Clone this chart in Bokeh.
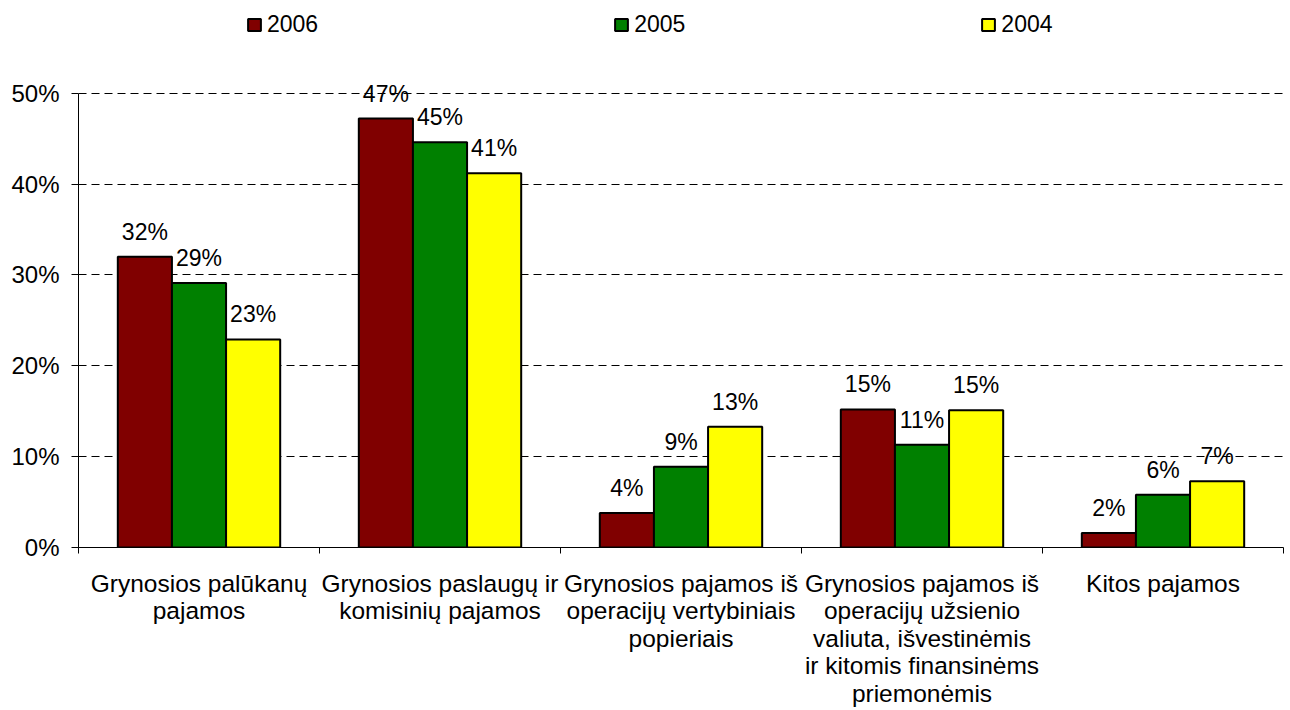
from bokeh.plotting import figure
from bokeh.models import ColumnDataSource, Range1d, FixedTicker, Legend, LegendItem
from bokeh.core.properties import value
from bokeh.embed import file_html
from bokeh.resources import INLINE

# ---- data ----
categories = [
    "Grynosios palūkanų\npajamos",
    "Grynosios paslaugų ir\nkomisinių pajamos",
    "Grynosios pajamos iš\noperacijų vertybiniais\npopieriais",
    "Grynosios pajamos iš\noperacijų užsienio\nvaliuta, išvestinėmis\nir kitomis finansinėms\npriemonėmis",
    "Kitos pajamos",
]
years = ["2006", "2005", "2004"]
v2006 = [0.320, 0.472, 0.038, 0.152, 0.016]
v2005 = [0.291, 0.446, 0.089, 0.113, 0.058]
v2004 = [0.229, 0.412, 0.133, 0.151, 0.073]
y_ticks = [0, 0.1, 0.2, 0.3, 0.4, 0.5]
y_tick_labels = ["0%", "10%", "20%", "30%", "40%", "50%"]

# ---- styles ----
colors = ["#800000", "#008000", "#FFFF00"]
FONT = "Liberation Sans"
BAR_W = 0.2246

p = figure(frame_width=1205, frame_height=547, output_backend="svg", toolbar_location=None,
           x_range=Range1d(0, 5), y_range=Range1d(0, 0.602),
           min_border_left=78, min_border_right=3, min_border_top=0, min_border_bottom=150)
p.outline_line_color = None
p.background_fill_color = "white"
p.border_fill_color = "white"

centers = [i + 0.5 for i in range(len(categories))]
offsets = [-BAR_W, 0.0, BAR_W]
series = [v2006, v2005, v2004]

renderers = []
for yr, vals, off, col in zip(years, series, offsets, colors):
    src = ColumnDataSource(dict(
        x=[c + off for c in centers],
        top=vals,
        lab=[f"{round(v * 100)}%" for v in vals],
    ))
    r = p.vbar(x="x", top="top", bottom=0, width=BAR_W, source=src,
               fill_color=col, line_color="black", line_width=2)
    renderers.append(r)
    p.text(x="x", y="top", text="lab", source=src, text_align="center",
           text_baseline="middle", y_offset=-25, text_font=value(FONT),
           text_font_size="23px", text_color="black")

# ---- axes ----
p.xgrid.visible = False
p.ygrid.ticker = FixedTicker(ticks=y_ticks)
p.ygrid.grid_line_color = "black"
p.ygrid.grid_line_dash = "8 5"
p.ygrid.grid_line_width = 1

ya = p.yaxis[0]
ya.ticker = FixedTicker(ticks=y_ticks)
ya.major_label_overrides = {t: l for t, l in zip(y_ticks, y_tick_labels)}
ya.bounds = (0, 0.5)
ya.axis_line_color = "black"
ya.major_tick_out = 7
ya.major_tick_in = 0
ya.minor_tick_line_color = None
ya.major_label_text_font = FONT
ya.major_label_text_font_size = "24px"
ya.major_label_text_color = "black"
ya.major_label_standoff = 12

xa = p.xaxis[0]
xa.ticker = FixedTicker(ticks=centers, minor_ticks=list(range(len(categories) + 1)))
xa.major_label_overrides = {c: l for c, l in zip(centers, categories)}
xa.axis_line_color = "black"
xa.major_tick_out = 0
xa.major_tick_in = 0
xa.minor_tick_out = 6
xa.minor_tick_in = 0
xa.minor_tick_line_color = "black"
xa.major_label_text_font = FONT
xa.major_label_text_font_size = "24.5px"
xa.major_label_text_color = "black"
xa.major_label_text_line_height = 1.02
xa.major_label_standoff = 16

# ---- legend ----
leg = Legend(items=[LegendItem(label=yr, renderers=[r]) for yr, r in zip(years, renderers)],
             location=(168, 509), orientation="horizontal", spacing=295,
             padding=0, margin=0, border_line_color=None, background_fill_alpha=0,
             label_text_font=FONT, label_text_font_size="23px", label_text_color="black",
             label_standoff=5, glyph_width=16, glyph_height=15, label_height=15)
p.add_layout(leg)

open("out.html", "w").write(file_html(p, INLINE))
